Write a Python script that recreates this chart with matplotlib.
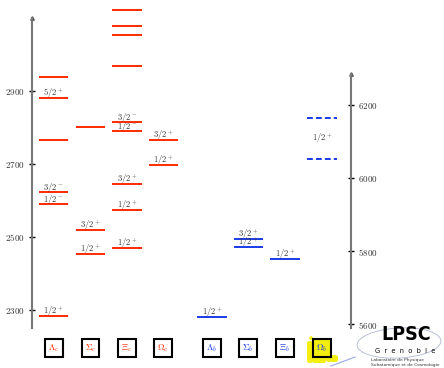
import matplotlib
matplotlib.use("Agg")
import matplotlib.pyplot as plt
from matplotlib.patches import Ellipse, FancyBboxPatch

plt.rcParams['mathtext.fontset'] = 'cm'

# Charm baryon levels (MeV), left scale
lambda_c = [2938, 2881, 2766, 2623, 2590, 2284]
lambda_c_jp = [None, "5/2^+", None, "3/2^-", "1/2^-", "1/2^+"]
sigma_c = [2800, 2519, 2454]
sigma_c_jp = [None, "3/2^+", "1/2^+"]
xi_c = [3122, 3078, 3053, 2968, 2815, 2790, 2645, 2575, 2470]
xi_c_jp = [None, None, None, None, "3/2^-", "1/2^-", "3/2^+", "1/2^+", "1/2^+"]
omega_c = [2766, 2697]
omega_c_jp = ["3/2^+", "1/2^+"]

# Bottom baryon levels (MeV), right scale
lambda_b = [5620]
lambda_b_jp = ["1/2^+"]
sigma_b = [5833, 5811]
sigma_b_jp = ["3/2^+", "1/2^+"]
xi_b = [5778]
xi_b_jp = ["1/2^+"]
omega_b_range = [6164, 6052]   # predicted band (dashed)
omega_b_jp = "1/2^+"

charm_names = [r"\Lambda_c", r"\Sigma_c", r"\Xi_c", r"\Omega_c"]
bottom_names = [r"\Lambda_b", r"\Sigma_b", r"\Xi_b", r"\Omega_b"]

left_ticks = [2300, 2500, 2700, 2900]
right_ticks = [5600, 5800, 6000, 6200]

RED = "#ff2a00"
BLUE = "#1a3be8"
W, H = 444, 368

fig = plt.figure(figsize=(W / 100, H / 100), dpi=100)
ax = fig.add_axes([0, 0, 1, 1])
ax.set_xlim(0, W)
ax.set_ylim(2141.1, 3149.3)
ax2 = ax.twinx()
ax2.set_ylim(5479.5, 6487.7)

for a in (ax, ax2):
    for s in ("top", "bottom"):
        a.spines[s].set_visible(False)
    a.set_xticks([])
    a.patch.set_visible(False)
ax.spines["right"].set_visible(False)
ax2.spines["left"].set_visible(False)

ax.spines["left"].set_position(("data", 32))
ax.spines["left"].set_bounds(2250, 3100)
ax2.spines["right"].set_position(("data", 351))
ax2.spines["right"].set_bounds(5589, 6285)
for sp in (ax.spines["left"], ax2.spines["right"]):
    sp.set_color("#777777")
    sp.set_linewidth(1.5)

ax.set_yticks(left_ticks)
ax.set_yticklabels([rf"${t}$" for t in left_ticks])
ax2.set_yticks(right_ticks)
ax2.set_yticklabels([rf"${t}$" for t in right_ticks])
for a in (ax, ax2):
    a.tick_params(axis="y", direction="inout", length=4, width=1, color="k",
                  labelsize=6.5, labelcolor="#333333", pad=3)

# axis arrow heads
ax.plot([32], [3100], marker="^", ms=2.5, color="#555555", clip_on=False)
ax2.plot([351], [6285], marker="^", ms=2.5, color="#555555", clip_on=False)

half = 14.75


def draw_column(a, xc, levels, labels, color):
    for m, lab in zip(levels, labels):
        a.plot([xc - half, xc + half], [m, m], color=color, lw=1.4,
               solid_capstyle="butt")
        if lab:
            a.text(xc, m + 5, rf"${lab}$", ha="center", va="baseline",
                   fontsize=6.2, color="#333333")


draw_column(ax, 53.5, lambda_c, lambda_c_jp, RED)
draw_column(ax, 90.5, sigma_c, sigma_c_jp, RED)
draw_column(ax, 127, xi_c, xi_c_jp, RED)
draw_column(ax, 163.5, omega_c, omega_c_jp, RED)
draw_column(ax2, 212, lambda_b, lambda_b_jp, BLUE)
draw_column(ax2, 248.5, sigma_b, sigma_b_jp, BLUE)
draw_column(ax2, 285, xi_b, xi_b_jp, BLUE)
for m in omega_b_range:
    ax2.plot([322 - half, 322 + half], [m, m], color=BLUE, lw=1.4,
             ls=(0, (3, 1.6)))
ax2.text(322, sum(omega_b_range) / 2, rf"${omega_b_jp}$", ha="center",
         va="center", fontsize=6.2, color="#333333")

tr = ax.transAxes


def px_box(x0, y0, w, h, **kw):
    """Rectangle given in figure pixels (origin top-left)."""
    return FancyBboxPatch((x0 / W, 1 - (y0 + h) / H), w / W, h / H,
                          boxstyle="round,pad=0,rounding_size=0.006",
                          transform=tr, **kw)


# yellow lab logo behind the last label
YEL = "#f2ee10"
for x0, y0, w, h in [(307, 341, 6, 22), (309, 336, 4, 4), (312, 344, 14, 19),
                     (326, 348, 6, 14), (330, 355, 8, 7)]:
    ax.add_patch(px_box(x0, y0, w, h, fc=YEL, ec="none", zorder=1))
ax.plot([0.745, 0.80], [1 - 366 / H, 1 - 357 / H], transform=tr,
        color="#9aa8e8", lw=0.8, zorder=1)

# boxed baryon names
for xc, nm in zip([54, 90.5, 127, 163], charm_names):
    ax.text(xc / W, 1 - 348 / H, rf"${nm}$", transform=tr, ha="center",
            va="center", fontsize=6.5, color=RED, zorder=3,
            bbox=dict(boxstyle="square,pad=0.35", fc="white", ec="black", lw=1.5))
for xc, nm in zip([212, 248, 285, 322], bottom_names):
    fc = YEL if nm == r"\Omega_b" else "white"
    ax.text(xc / W, 1 - 348 / H, rf"${nm}$", transform=tr, ha="center",
            va="center", fontsize=6.5, color=BLUE, zorder=3,
            bbox=dict(boxstyle="square,pad=0.35", fc=fc, ec="black", lw=1.5))

# LPSC logo
ax.add_patch(Ellipse((399 / W, 1 - 343 / H), 84 / W, 30 / H, angle=4,
                     transform=tr, fill=False, ec="#b0b8d0", lw=0.6))
ax.text(406 / W, 1 - 335 / H, "LPSC", transform=tr, ha="center", va="center",
        fontsize=14, fontweight="bold", color="black", family="DejaVu Sans",
        stretch="condensed")
ax.text(405 / W, 1 - 351 / H, "G  r  e  n  o  b  l  e", transform=tr,
        ha="center", va="center", fontsize=4.8, color="black")
ax.text(371 / W, 1 - 360 / H, "Laboratoire de Physique", transform=tr,
        ha="left", va="center", fontsize=3.2, color="#333333")
ax.text(371 / W, 1 - 365 / H, "Subatomique et de Cosmologie", transform=tr,
        ha="left", va="center", fontsize=3.2, color="#333333")

fig.savefig("out.png", dpi=100)
